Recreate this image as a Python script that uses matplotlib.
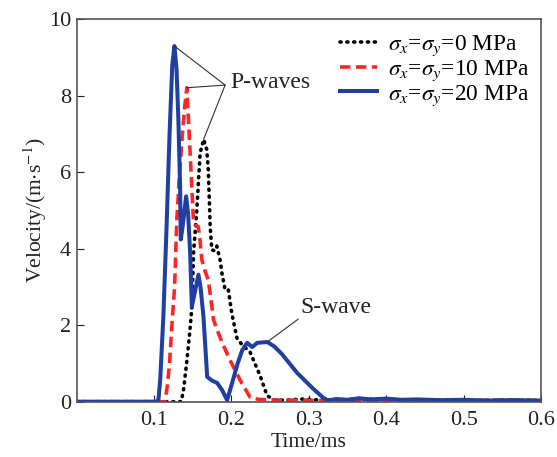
import matplotlib
matplotlib.use("Agg")
import matplotlib.pyplot as plt

plt.rcParams['font.family'] = ['Liberation Serif', 'DejaVu Serif']
plt.rcParams['mathtext.fontset'] = 'stix'

# 0 MPa (black dotted)
t0 = [0.0, 0.05, 0.10, 0.135, 0.138, 0.142, 0.146, 0.149, 0.151, 0.155, 0.157, 0.1595, 0.164,
      0.168, 0.170, 0.1715, 0.1725, 0.1746, 0.178, 0.181, 0.1854, 0.1876, 0.1918, 0.196, 0.2005,
      0.2074, 0.215, 0.224, 0.237, 0.246, 0.255, 0.27, 0.29, 0.31, 0.34, 0.37, 0.41, 0.46,
      0.51, 0.56, 0.60]
v0 = [0.0, 0.0, 0.0, 0.0, 0.3, 1.0, 1.8, 2.5, 3.9, 4.94, 5.64, 6.5, 6.86,
      6.6, 6.07, 5.2, 4.58, 3.97, 3.95, 4.07, 3.7, 3.37, 2.92, 2.92, 2.3,
      1.64, 1.46, 1.3, 0.68, 0.16, 0.05, 0.04, 0.07, 0.05, 0.05, 0.07, 0.05, 0.05,
      0.03, 0.04, 0.03]

# 10 MPa (red dashed)
t10 = [0.0, 0.05, 0.10, 0.114, 0.117, 0.120, 0.123, 0.1265, 0.1294, 0.133, 0.136, 0.139, 0.1423,
       0.1444, 0.1466, 0.149, 0.151, 0.154, 0.157, 0.159, 0.1617, 0.166, 0.170, 0.1747, 0.1768,
       0.1815, 0.188, 0.198, 0.211, 0.224, 0.235, 0.25, 0.27, 0.29, 0.31, 0.34, 0.37, 0.41,
       0.46, 0.51, 0.56, 0.60]
v10 = [0.0, 0.0, 0.0, 0.0, 0.4, 1.0, 2.0, 3.0, 4.76, 6.0, 6.85, 7.6, 8.21,
       7.38, 6.5, 5.5, 4.68, 4.6, 4.58, 4.3, 3.71, 3.4, 3.19, 2.49, 2.14,
       1.88, 1.54, 1.09, 0.57, 0.12, 0.06, 0.05, 0.04, 0.04, 0.03, 0.04, 0.03, 0.03,
       0.04, 0.03, 0.05, 0.03]

# 20 MPa (blue solid)
t20 = [0.0, 0.05, 0.103, 0.1056, 0.108, 0.112, 0.116, 0.120, 0.1235, 0.1263, 0.129, 0.1314, 0.1336,
       0.1345, 0.137, 0.1414, 0.144, 0.1466, 0.1488, 0.152, 0.1573, 0.160, 0.1638, 0.1686, 0.175,
       0.1815, 0.188, 0.1944, 0.201, 0.208, 0.214, 0.2203, 0.2268, 0.2333, 0.2462, 0.255, 0.265,
       0.275, 0.285, 0.295, 0.305, 0.3187, 0.325, 0.335, 0.35, 0.365, 0.38, 0.40, 0.42,
       0.44, 0.47, 0.50, 0.53, 0.56, 0.60]
v20 = [0.0, 0.0, 0.0, 0.05, 0.6, 2.23, 4.5, 7.0, 8.8, 9.3, 8.7, 7.38, 5.63,
       4.24, 4.6, 5.37, 4.9, 3.89, 2.49, 2.8, 3.32, 3.0, 2.23, 0.65, 0.55,
       0.49, 0.3, 0.04, 0.5, 1.0, 1.35, 1.54, 1.43, 1.54, 1.56, 1.45, 1.25,
       1.0, 0.75, 0.55, 0.35, 0.1, 0.03, 0.07, 0.05, 0.09, 0.06, 0.08, 0.05,
       0.06, 0.04, 0.05, 0.03, 0.04, 0.03]

labels = [r'$\sigma_x$=$\sigma_y$=0 MPa', r'$\sigma_x$=$\sigma_y$=10 MPa', r'$\sigma_x$=$\sigma_y$=20 MPa']
xticks = [0.1, 0.2, 0.3, 0.4, 0.5, 0.6]
yticks = [0, 2, 4, 6, 8, 10]

fig = plt.figure(figsize=(5.57, 4.57), dpi=100)
ax = fig.add_axes([0.1377, 0.121, 0.8336, 0.8368])

ax.plot(t0, v0, color='black', lw=2.6, linestyle=(0, (0.3, 1.6)), dash_capstyle='round', label=labels[0])
ax.plot(t10, v10, color='#ff2525', lw=2.6, linestyle=(0, (2.9, 1.5)), label=labels[1])
ax.plot(t20, v20, color='#1f3fa3', lw=2.9, label=labels[2])

ax.set_xlim(0, 0.6)
ax.set_ylim(0, 10)
ax.set_xticks(xticks)
ax.set_xticklabels([f'{x:g}' for x in xticks])
ax.set_yticks(yticks)
ax.tick_params(direction='in', labelsize=16, colors='#222222', length=5, pad=4)
ax.tick_params(axis='x', pad=7)
for s in ax.spines.values():
    s.set_color('#555555')
    s.set_linewidth(1.2)
ax.set_xlabel('Time/ms', fontsize=15.5, color='#222222', labelpad=2)
ax.set_ylabel(r'Velocity/(m$\cdot$s$^{-1}$)', fontsize=15.5, color='#222222', labelpad=0)

leg = ax.legend(loc='upper right', frameon=False, fontsize=16.8, handlelength=1.6,
                labelspacing=0.0, handletextpad=0.45, borderpad=0, borderaxespad=0,
                bbox_to_anchor=(529 / 557, 1 - 34 / 457), bbox_transform=fig.transFigure)

# annotations
cx, cy = 0.1918, 8.28
for pk in [(t20[9], v20[9]), (t10[12], v10[12]), (t0[12], v0[12])]:
    ax.annotate('', xy=pk, xytext=(cx, cy),
                arrowprops=dict(arrowstyle='-', lw=0.8, color='#333333', shrinkA=0, shrinkB=0))
ax.text(0.1986, 8.20, 'P-waves', fontsize=17, va='baseline', ha='left', color='#222222')

ax.annotate('', xy=(0.2462, 1.56), xytext=(0.2863, 2.16),
            arrowprops=dict(arrowstyle='-', lw=0.8, color='#333333', shrinkA=0, shrinkB=0))
ax.text(0.289, 2.33, 'S-wave', fontsize=17, va='baseline', ha='left', color='#222222')

fig.savefig('out.png', dpi=100)
